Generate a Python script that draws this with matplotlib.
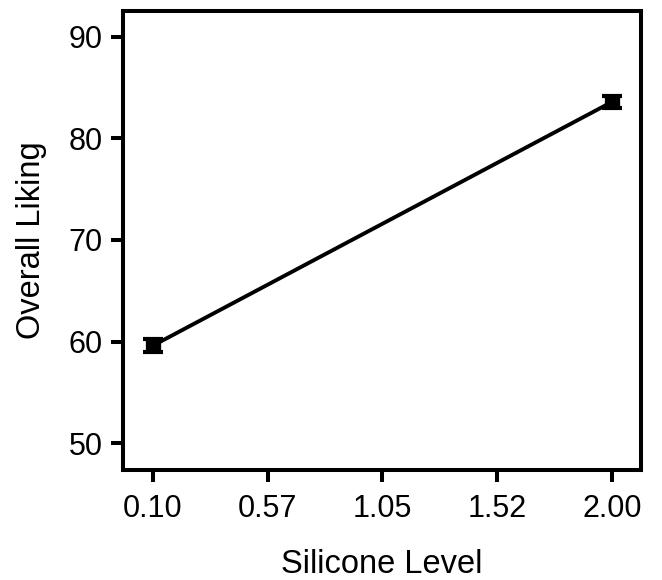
import matplotlib
matplotlib.use("Agg")
import matplotlib.pyplot as plt
import numpy as np

plt.rcParams['font.family'] = ['Liberation Sans', 'DejaVu Sans']

# Silicone level vs. overall liking (mean with standard error)
silicone_level = [0.10, 2.00]
overall_liking = [59.6, 83.6]
liking_err = [0.6, 0.6]

x_ticks = [0.10, 0.575, 1.05, 1.525, 2.00]
x_tick_labels = ["0.10", "0.57", "1.05", "1.52", "2.00"]
y_ticks = [50, 60, 70, 80, 90]

fig = plt.figure(figsize=(6.62, 5.80), dpi=100)
ax = fig.add_axes([0.1858, 0.1897, 0.7825, 0.7913])

ax.plot(silicone_level, overall_liking, color='black', linewidth=2.8,
        solid_capstyle='butt', zorder=2)
ax.errorbar(silicone_level, overall_liking, yerr=liking_err, fmt='none',
            ecolor='black', elinewidth=11, capsize=7.5, capthick=3, zorder=3)

ax.set_xlim(-0.024, 2.12)
ax.set_ylim(47.35, 92.55)
ax.set_xticks(x_ticks)
ax.set_xticklabels(x_tick_labels)
ax.set_yticks(y_ticks)

for side in ['left', 'right', 'top', 'bottom']:
    ax.spines[side].set_linewidth(2.9)

ax.tick_params(axis='both', direction='out', length=8.5, width=2.9,
               labelsize=22, color='black')
ax.tick_params(axis='x', pad=9)
ax.tick_params(axis='y', pad=6)

ax.set_xlabel("Silicone Level", fontsize=23.5, labelpad=18)
ax.set_ylabel("Overall Liking", fontsize=23.5, labelpad=16)

fig.savefig("out.png", dpi=100)
